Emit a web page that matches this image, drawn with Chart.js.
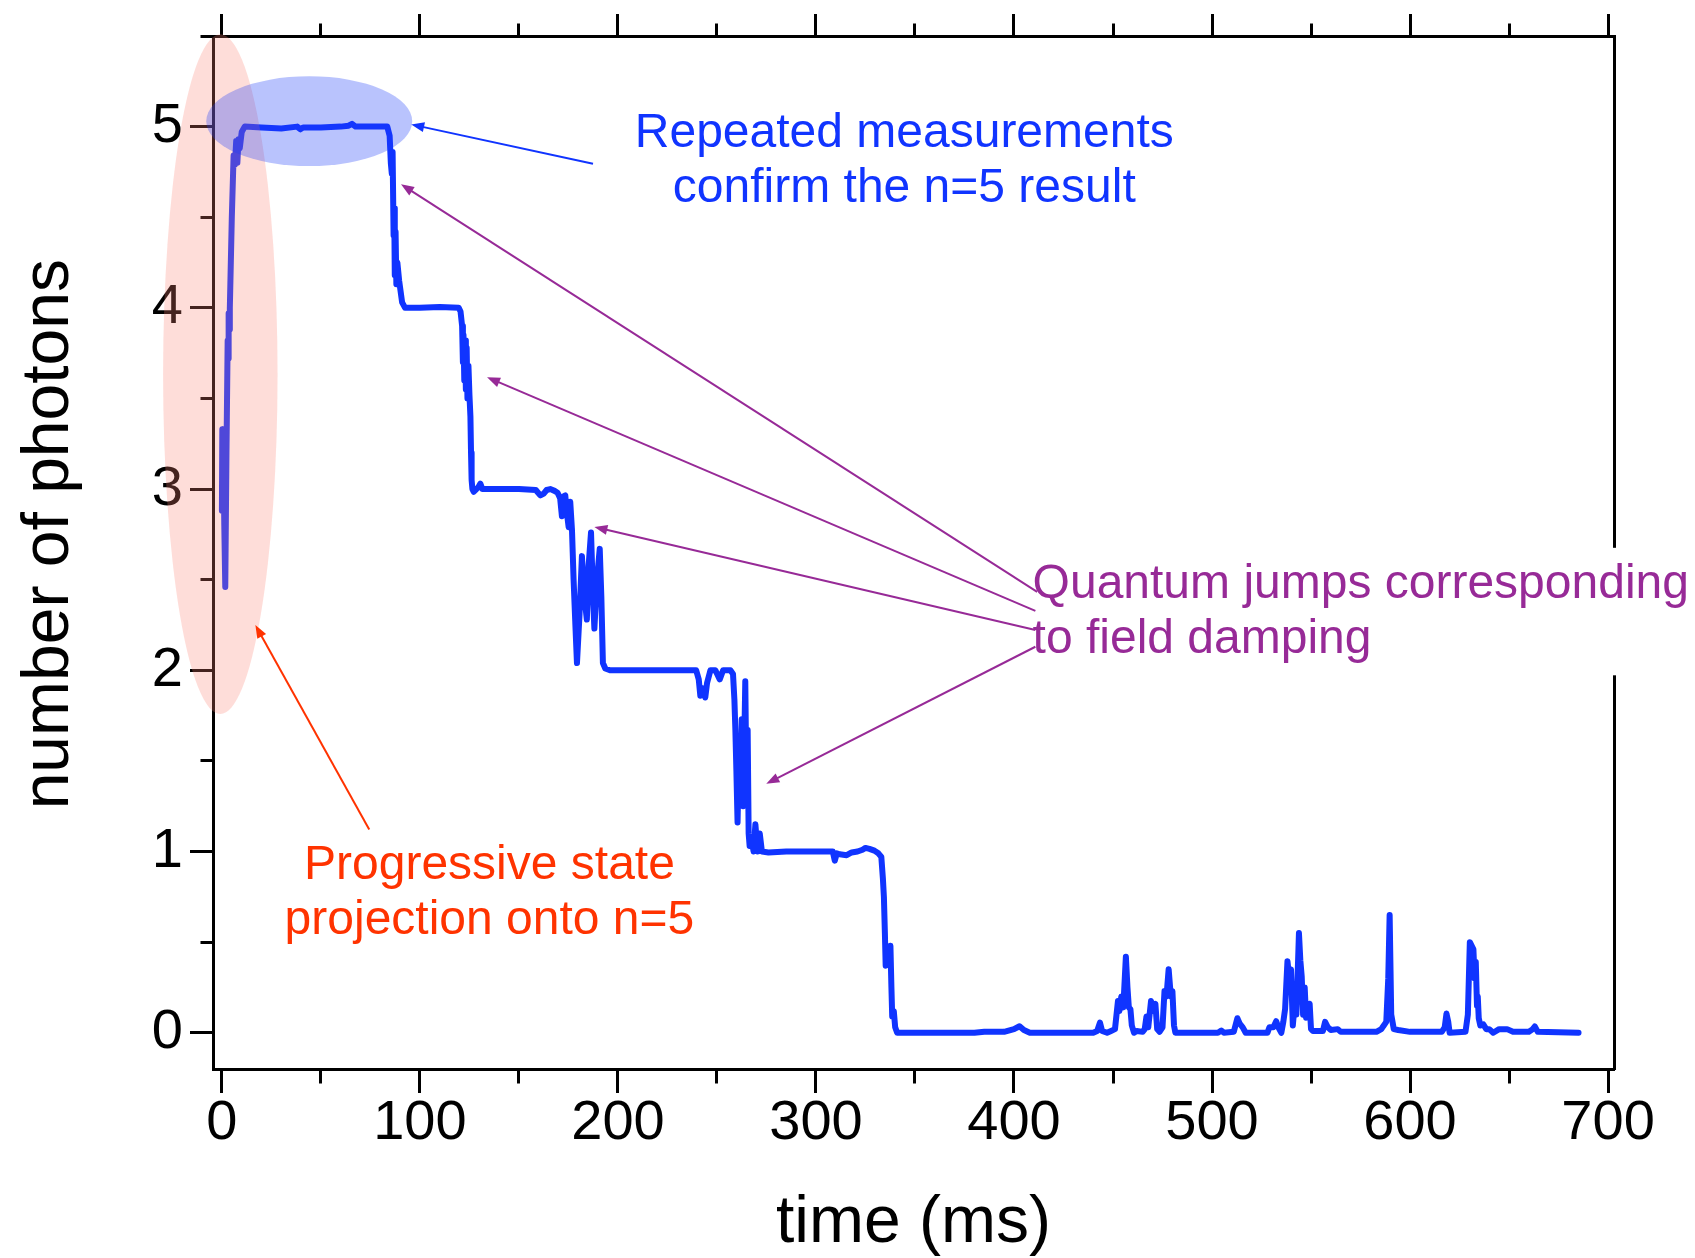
<!DOCTYPE html>
<html lang="en">
<head>
<meta charset="UTF-8">
<title>number of photons vs time</title>
<script src="https://cdn.jsdelivr.net/npm/chart.js"></script>
<style>
  html, body { margin: 0; padding: 0; background: #fff; }
  canvas { display: block; }
</style>
</head>
<body>
<canvas id="chart" width="1695" height="1258"></canvas>
<script>
// trace: time (ms) and photon number
const times = [
  0.0, 0.2, 0.5, 0.7, 1.2, 1.7, 2.3, 2.9, 3.1, 3.4, 3.7, 4.0, 5.0, 5.9, 6.6, 7.2, 7.8, 8.4, 9.0, 10.0,
  11.5, 20, 30, 38, 39.6, 41, 50, 60, 64, 65.7, 67.5, 75, 83.5, 84.7, 85.3, 85.8, 86.2, 86.7, 87.0, 87.3,
  87.7, 88.1, 88.6, 89.5, 91.0, 92.5, 100, 110, 119.6, 120.5, 121.3, 121.7, 122.0, 122.4, 122.8, 123.2, 123.6, 124.0,
  124.5, 125.0, 125.5, 125.8, 126.1, 126.5, 127.2, 128.5, 129.5, 130.5, 131.5, 140, 150, 158.5, 160.8, 162.5, 164, 165.8,
  168, 169.5, 170.8, 171.7, 172.5, 173.4, 174.2, 175.1, 175.9, 176.8, 177.6, 178.5, 179.3, 180.6, 181.8, 183.0, 184.3, 185.2,
  186.4, 187.4, 188.1, 189.4, 190.8, 191.6, 192.4, 193.6, 196, 205, 215, 225, 235, 239.5, 240.8, 241.6, 242.9, 244.1,
  245.0, 246.7, 249.2, 251.4, 253.1, 256.8, 258.1, 258.8, 259.3, 259.8, 260.4, 261.1, 261.8, 262.5, 263.2, 263.8, 264.3, 264.8,
  265.5, 266.0, 266.5, 267.7, 268.5, 269.4, 270.5, 271.6, 272.7, 276, 285, 300, 308.5, 309.5, 310.5, 312, 315.5, 318,
  321, 323.5, 325, 327, 329.5, 331.5, 333.0, 333.8, 334.3, 334.8, 335.2, 336.0, 337.0, 337.6, 338.1, 338.5, 339.3, 340.0,
  341.0, 360, 380, 385, 395, 400, 402.8, 405, 408, 420, 440, 442, 443.4, 444.5, 447, 449, 451, 452.5,
  453.2, 454.2, 455.2, 456.5, 457.3, 458.0, 458.8, 459.5, 460.6, 462, 465, 466, 466.9, 467.8, 469.2, 470.3, 471.4, 472.3,
  473.5, 475, 476, 477, 478.1, 479.2, 480, 480.8, 481.5, 490, 503, 504.7, 506, 511, 512.8, 514, 515.5, 517,
  528, 529, 531, 532.4, 533.5, 535, 536, 536.9, 538.1, 539.0, 539.9, 540.8, 541.7, 542.6, 543.9, 544.6, 545.3, 546.0,
  546.8, 547.5, 548.3, 549.3, 550.0, 551, 553, 556, 557.1, 558.5, 560, 563.5, 565, 575, 583, 585.5, 586.4, 588,
  589.0, 589.7, 590.5, 591.8, 594, 600, 616, 617.5, 618.4, 619.3, 620, 628, 629.2, 630.2, 632, 632.6, 633.2, 633.8,
  634.2, 634.7, 635.5, 637, 638.5, 640, 642, 645, 649, 652, 660, 662, 663, 664.5, 685.1
];
const photons = [
  2.88, 3.33, 2.95, 3.30, 2.80, 2.46, 3.20, 3.82, 3.72, 3.97, 3.88, 4.00, 4.50, 4.84, 4.79, 4.92, 4.80, 4.93, 4.88, 4.97,
  5.00, 4.995, 4.99, 5.0, 4.985, 4.995, 4.995, 5.0, 5.005, 5.015, 5.0, 5.0, 5.0, 4.95, 4.80, 4.74, 4.86, 4.40, 4.55, 4.18,
  4.42, 4.13, 4.25, 4.15, 4.03, 4.00, 4.0, 4.005, 4.0, 3.98, 3.90, 3.70, 3.85, 3.60, 3.82, 3.55, 3.78, 3.50,
  3.68, 3.52, 3.40, 3.20, 3.05, 3.00, 2.985, 3.00, 3.01, 3.03, 3.0, 3.0, 3.0, 2.995, 2.965, 2.975, 2.995, 3.0,
  2.99, 2.98, 2.95, 2.85, 2.96, 2.965, 2.87, 2.79, 2.93, 2.77, 2.50, 2.25, 2.04, 2.31, 2.63, 2.41, 2.28, 2.58,
  2.76, 2.41, 2.23, 2.50, 2.67, 2.41, 2.04, 2.01, 2.0, 2.0, 2.0, 2.0, 2.0, 2.0, 1.95, 1.86, 1.90, 1.85,
  1.93, 2.0, 2.0, 1.95, 2.0, 2.0, 1.98, 1.84, 1.67, 1.45, 1.16, 1.54, 1.29, 1.73, 1.25, 1.60, 1.94, 1.45,
  1.67, 1.10, 1.03, 1.05, 1.00, 1.15, 1.00, 1.10, 1.00, 0.995, 1.0, 1.0, 1.0, 0.95, 0.99, 0.985, 0.98, 0.995,
  1.0, 1.01, 1.02, 1.015, 1.005, 0.99, 0.97, 0.85, 0.75, 0.55, 0.37, 0.45, 0.42, 0.48, 0.25, 0.09, 0.12, 0.03,
  0.0, 0.0, 0.0, 0.005, 0.005, 0.02, 0.036, 0.015, 0.0, 0.0, 0.0, 0.01, 0.056, 0.01, 0.0, 0.01, 0.02, 0.175,
  0.12, 0.20, 0.14, 0.42, 0.25, 0.14, 0.13, 0.04, 0.0, 0.01, 0.005, 0.02, 0.09, 0.03, 0.175, 0.12, 0.16, 0.02,
  0.005, 0.03, 0.23, 0.20, 0.35, 0.20, 0.23, 0.04, 0.0, 0.0, 0.0, 0.012, 0.0, 0.005, 0.08, 0.05, 0.03, 0.0,
  0.0, 0.03, 0.03, 0.064, 0.03, 0.0, 0.06, 0.13, 0.395, 0.30, 0.35, 0.04, 0.15, 0.10, 0.55, 0.40, 0.31, 0.10,
  0.25, 0.083, 0.10, 0.16, 0.02, 0.01, 0.01, 0.01, 0.06, 0.03, 0.015, 0.02, 0.005, 0.005, 0.005, 0.02, 0.035, 0.06,
  0.30, 0.65, 0.10, 0.02, 0.015, 0.005, 0.005, 0.03, 0.106, 0.06, 0.0, 0.005, 0.10, 0.50, 0.46, 0.30, 0.39, 0.15,
  0.20, 0.08, 0.04, 0.046, 0.02, 0.02, 0.0, 0.02, 0.02, 0.005, 0.005, 0.02, 0.035, 0.005, 0.0
];
const xTickLabels = [0, 100, 200, 300, 400, 500, 600, 700];
const yTickLabels = [0, 1, 2, 3, 4, 5];

const BLUE = '#1034ff';
const PURPLE = '#972a97';
const RED = '#ff3300';
const tickFont = {family: '"Liberation Sans Narrow", "Liberation Sans", Arial, sans-serif', size: 56, lineHeight: 1};
const titleFont = {family: '"Liberation Sans", Arial, sans-serif', size: 66, lineHeight: 1};

Chart.defaults.font.family = '"Liberation Sans", Arial, sans-serif';
Chart.defaults.color = '#000';

// minor ticks are drawn shorter by dashing the tick line
function tickGrid(len, gap, innerFirst, isMajor) {
  return {
    drawOnChartArea: false,
    drawTicks: true,
    tickLength: len,
    tickWidth: 3,
    tickColor: '#000',
    tickBorderDash: c => isMajor(c.tick.value) ? [] : (innerFirst ? [len - gap, 60] : [60, gap]),
    tickBorderDashOffset: c => isMajor(c.tick.value) || innerFirst ? 0 : 60
  };
}
const xMajor = v => xTickLabels.includes(v);
const yMajor = v => yTickLabels.includes(v);

// annotations, in data units
const ellipses = [
  {t: -0.8, n: 3.634, rt: 28.9, rn: 1.875, fill: 'rgba(250,128,114,0.27)'},
  {t: 44.1, n: 5.03, rt: 52, rn: 0.248, fill: 'rgba(30,60,250,0.31)'}
];
const arrows = [
  {from: [187.4, 4.795], to: [95.6, 5.012], color: BLUE},
  {from: [74.4, 1.121], to: [16.9, 2.25], color: RED},
  {from: [411.7, 2.433], to: [90.45, 4.682], color: PURPLE},
  {from: [410.8, 2.328], to: [133.9, 3.617], color: PURPLE},
  {from: [410.8, 2.222], to: [188.1, 2.791], color: PURPLE},
  {from: [410.8, 2.13], to: [274.9, 1.374], color: PURPLE}
];
const notes = [
  {t: 344.6, n: 4.89, align: 'center', size: 48, gap: 55.5, color: BLUE,
   lines: ['Repeated measurements', 'confirm the n=5 result']},
  {t: 409.4, n: 2.40, align: 'left', size: 48, gap: 55.5, color: PURPLE, clear: true,
   lines: ['Quantum jumps corresponding', 'to field damping']},
  {t: 135.1, n: 0.851, align: 'center', size: 48, gap: 55.5, color: RED,
   lines: ['Progressive state', 'projection onto n=5']}
];

const annotationPlugin = {
  id: 'notes',
  afterDatasetsDraw(chart) {
    const {ctx} = chart;
    const sx = chart.scales.x, sy = chart.scales.y;
    const px = t => sx.getPixelForValue(t);
    const py = n => sy.getPixelForValue(n);
    ctx.save();
    ellipses.forEach(e => {
      ctx.beginPath();
      ctx.ellipse(px(e.t), py(e.n), Math.abs(px(e.t + e.rt) - px(e.t)), Math.abs(py(e.n + e.rn) - py(e.n)), 0, 0, Math.PI * 2);
      ctx.fillStyle = e.fill;
      ctx.fill();
    });
    notes.forEach(nt => {
      const x = px(nt.t), y = py(nt.n);
      ctx.font = nt.size + 'px "Liberation Sans", Arial, sans-serif';
      if (nt.clear) {
        ctx.fillStyle = '#fff';
        ctx.fillRect(x + 6, y - 50, chart.width - x, nt.gap * (nt.lines.length - 1) + 72);
      }
      ctx.fillStyle = nt.color;
      ctx.textAlign = nt.align;
      ctx.textBaseline = 'alphabetic';
      nt.lines.forEach((s, i) => ctx.fillText(s, x, y + i * nt.gap));
    });
    arrows.forEach(a => {
      const x1 = px(a.from[0]), y1 = py(a.from[1]);
      const x2 = px(a.to[0]), y2 = py(a.to[1]);
      const ang = Math.atan2(y2 - y1, x2 - x1);
      ctx.strokeStyle = a.color;
      ctx.fillStyle = a.color;
      ctx.lineWidth = 2;
      ctx.beginPath();
      ctx.moveTo(x1, y1);
      ctx.lineTo(x2 - 8 * Math.cos(ang), y2 - 8 * Math.sin(ang));
      ctx.stroke();
      ctx.beginPath();
      ctx.moveTo(x2, y2);
      ctx.lineTo(x2 - 13 * Math.cos(ang) + 5 * Math.sin(ang), y2 - 13 * Math.sin(ang) - 5 * Math.cos(ang));
      ctx.lineTo(x2 - 13 * Math.cos(ang) - 5 * Math.sin(ang), y2 - 13 * Math.sin(ang) + 5 * Math.cos(ang));
      ctx.closePath();
      ctx.fill();
    });
    ctx.restore();
  }
};

new Chart(document.getElementById('chart'), {
  type: 'line',
  data: {
    datasets: [{
      data: times.map((t, i) => ({x: t, y: photons[i]})),
      borderColor: BLUE,
      borderWidth: 6,
      pointRadius: 0,
      tension: 0,
      borderJoinStyle: 'round',
      borderCapStyle: 'round'
    }]
  },
  options: {
    responsive: false,
    animation: false,
    layout: {padding: 0},
    plugins: {legend: {display: false}, tooltip: {enabled: false}},
    scales: {
      x: {
        type: 'linear', position: 'bottom', min: -4.5, max: 703,
        afterFit: s => { s.height = 189; },
        border: {display: true, color: '#000', width: 3},
        grid: tickGrid(24, 11.5, true, xMajor),
        ticks: {stepSize: 50, includeBounds: false, autoSkip: false, maxRotation: 0, padding: 3,
                font: tickFont, color: '#000', callback: v => xMajor(v) ? String(v) : ''},
        title: {display: true, text: 'time (ms)', font: titleFont, color: '#000', padding: {top: 0, bottom: 1}}
      },
      x2: {
        type: 'linear', position: 'top', min: -4.5, max: 703,
        afterFit: s => { s.height = 36; },
        border: {display: true, color: '#000', width: 3},
        grid: tickGrid(22, 9.5, false, xMajor),
        ticks: {stepSize: 50, includeBounds: false, autoSkip: false, display: false}
      },
      y: {
        type: 'linear', position: 'left', min: -0.2, max: 5.5,
        afterFit: s => { s.width = 213; },
        border: {display: true, color: '#000', width: 3},
        grid: tickGrid(23, 10.5, false, yMajor),
        ticks: {stepSize: 0.5, includeBounds: false, autoSkip: false, padding: 7,
                font: tickFont, color: '#000', callback: v => yMajor(v) ? String(v) : ''},
        title: {display: true, text: '  number of photons', font: titleFont, color: '#000', padding: {top: 17, bottom: 0}}
      },
      y2: {
        type: 'linear', position: 'right', min: -0.2, max: 5.5,
        afterFit: s => { s.width = 81; },
        border: {display: true, color: '#000', width: 3},
        grid: {display: true, drawOnChartArea: false, drawTicks: false},
        ticks: {display: false}
      }
    }
  },
  plugins: [annotationPlugin]
});
</script>
</body>
</html>
